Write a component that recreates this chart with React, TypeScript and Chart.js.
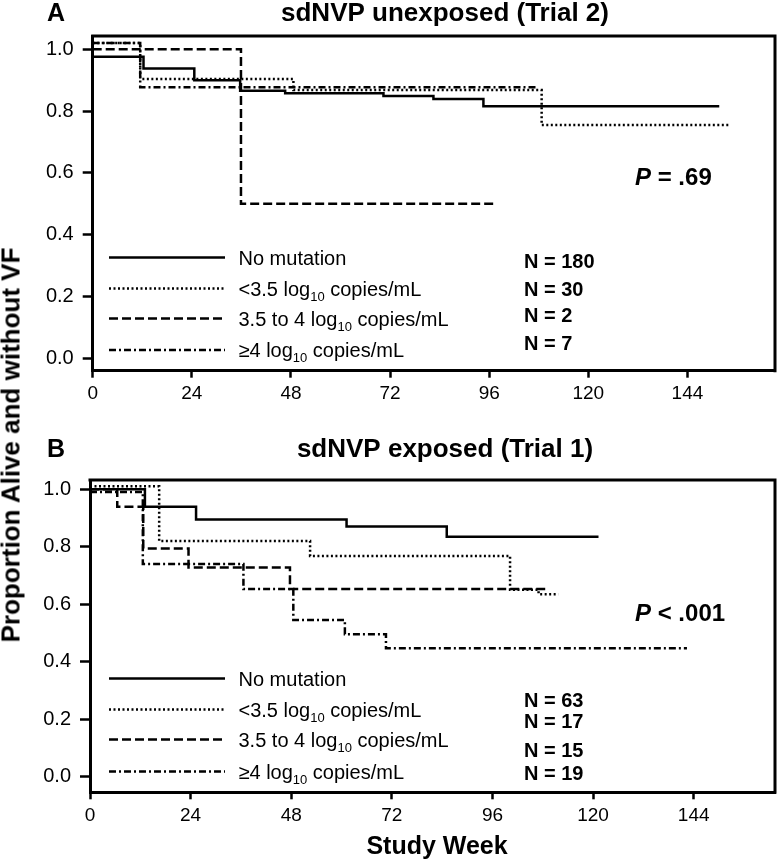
import React, { useEffect, useRef } from "react";
import { Chart, registerables } from "chart.js";
Chart.register(...registerables);

const FONT = "'Liberation Sans', Arial, Helvetica, sans-serif";

// ---------- shared data ----------
const groupLabels = ["No mutation", "<3.5 log10 copies/mL", "3.5 to 4 log10 copies/mL", "\u22654 log10 copies/mL"];
const groupLabelParts: string[][] = [
  ["No mutation"],
  ["<3.5 log", "10", " copies/mL"],
  ["3.5 to 4 log", "10", " copies/mL"],
  ["\u22654 log", "10", " copies/mL"],
];
const xTickValues = [0, 24, 48, 72, 96, 120, 144];
const yTickValues = [0, 0.2, 0.4, 0.6, 0.8, 1.0];
const yAxisTitle = "Proportion Alive and without VF";
const xAxisTitle = "Study Week";

// ---------- panel A ----------
const panelALetter = "A";
const panelATitle = "sdNVP unexposed (Trial 2)";
const panelAN = ["N = 180", "N = 30", "N = 2", "N = 7"];
const panelAP = ["P", " = .69"];
const aNoMutTimes = [0, 12.3, 24.6, 35.7, 46.6, 70.4, 82.5, 94.6, 151.7];
const aNoMutSurv = [0.976, 0.938, 0.9, 0.866, 0.858, 0.849, 0.839, 0.816, 0.816];
const aLowTimes = [0, 11.5, 48.6, 108.7, 154];
const aLowSurv = [1.02, 0.904, 0.868, 0.755, 0.755];
const aMidTimes = [0, 35.9, 97.8];
const aMidSurv = [1.0, 0.5, 0.5];
const aHighTimes = [0, 11.5, 107.5];
const aHighSurv = [1.02, 0.877, 0.877];

// ---------- panel B ----------
const panelBLetter = "B";
const panelBTitle = "sdNVP exposed (Trial 1)";
const panelBN = ["N = 63", "N = 17", "N = 15", "N = 19"];
const panelBP = ["P", " < .001"];
const bNoMutTimes = [0, 13.1, 25.3, 61.2, 85.1, 121.3];
const bNoMutSurv = [1.0, 0.939, 0.895, 0.87, 0.835, 0.835];
const bLowTimes = [0, 16.5, 52.5, 100.2, 107, 111.7];
const bLowSurv = [1.01, 0.82, 0.768, 0.65, 0.635, 0.635];
const bMidTimes = [0, 6.5, 12.7, 23.5, 47.7, 109];
const bMidSurv = [1.0, 0.939, 0.794, 0.728, 0.653, 0.653];
const bHighTimes = [0, 12.6, 36.6, 48.5, 60.8, 70.6, 142.4];
const bHighSurv = [0.99, 0.74, 0.653, 0.545, 0.496, 0.447, 0.447];

const dashes = [[], [2, 2.5], [9, 4], [7, 3, 2, 3]];

type Panel = {
  letter: string;
  title: string;
  nLabels: string[];
  p: string[];
  series: { t: number[]; s: number[] }[];
  canvasH: number;
  left: number;
  top: number;
  bottom: number;
  xMax: number;
  yMin: number;
  yMax: number;
  letterY: number;
  titleY: number;
  pY: number;
  legendY: number[];
  nY: number[];
  showXTitle: boolean;
};

const panels: Panel[] = [
  {
    letter: panelALetter,
    title: panelATitle,
    nLabels: panelAN,
    p: panelAP,
    series: [
      { t: aNoMutTimes, s: aNoMutSurv },
      { t: aLowTimes, s: aLowSurv },
      { t: aMidTimes, s: aMidSurv },
      { t: aHighTimes, s: aHighSurv },
    ],
    canvasH: 420,
    left: 92.7,
    top: 36,
    bottom: 370.7,
    xMax: 165.2,
    yMin: -0.04,
    yMax: 1.043,
    letterY: 14,
    titleY: 14,
    pY: 178,
    legendY: [257.5, 288.5, 318.5, 350],
    nY: [262.5, 290.7, 316.7, 344],
    showXTitle: false,
  },
  {
    letter: panelBLetter,
    title: panelBTitle,
    nLabels: panelBN,
    p: panelBP,
    series: [
      { t: bNoMutTimes, s: bNoMutSurv },
      { t: bLowTimes, s: bLowSurv },
      { t: bMidTimes, s: bMidSurv },
      { t: bHighTimes, s: bHighSurv },
    ],
    canvasH: 447,
    left: 90,
    top: 60,
    bottom: 372.3,
    xMax: 163.4,
    yMin: -0.054,
    yMax: 1.032,
    letterY: 30,
    titleY: 30,
    pY: 194,
    legendY: [258.5, 289.5, 319.5, 351.5],
    nY: [281, 302.3, 331, 354],
    showXTitle: true,
  },
];

function drawParts(ctx: CanvasRenderingContext2D, parts: string[], x: number, y: number) {
  let cx = x;
  parts.forEach((part, i) => {
    const isSub = parts.length === 3 && i === 1;
    ctx.font = isSub ? `13px ${FONT}` : `20px ${FONT}`;
    ctx.textBaseline = "middle";
    ctx.textAlign = "left";
    ctx.fillText(part, cx, isSub ? y + 7 : y);
    cx += ctx.measureText(part).width;
  });
}

function makeDecor(p: Panel) {
  return {
    id: "decor",
    afterDraw(chart: any) {
      const ctx: CanvasRenderingContext2D = chart.ctx;
      const a = chart.chartArea;
      ctx.save();
      ctx.strokeStyle = "#000";
      ctx.fillStyle = "#000";
      ctx.lineWidth = 3;
      ctx.setLineDash([]);
      ctx.beginPath();
      ctx.moveTo(a.left - 1.5, a.top);
      ctx.lineTo(a.right, a.top);
      ctx.lineTo(a.right, a.bottom + 1.5);
      ctx.stroke();

      // letter + title
      ctx.textBaseline = "middle";
      ctx.textAlign = "left";
      ctx.font = `bold 25px ${FONT}`;
      ctx.fillText(p.letter, 47, p.letterY);
      ctx.font = `bold 26px ${FONT}`;
      ctx.textAlign = "center";
      ctx.fillText(p.title, 445, p.titleY);

      // P value
      ctx.textAlign = "left";
      ctx.font = `italic bold 24px ${FONT}`;
      ctx.fillText(p.p[0], 635, p.pY);
      const w = ctx.measureText(p.p[0]).width;
      ctx.font = `bold 24px ${FONT}`;
      ctx.fillText(p.p[1], 635 + w, p.pY);

      // legend
      chart.data.datasets.forEach((ds: any, i: number) => {
        const y = p.legendY[i];
        ctx.save();
        ctx.lineWidth = 2.5;
        ctx.setLineDash(ds.borderDash || []);
        ctx.beginPath();
        ctx.moveTo(109, y);
        ctx.lineTo(225, y);
        ctx.stroke();
        ctx.restore();
        drawParts(ctx, groupLabelParts[i], 238.5, y + 1.5);
        ctx.font = `bold 20px ${FONT}`;
        ctx.textAlign = "left";
        ctx.textBaseline = "middle";
        ctx.fillText(p.nLabels[i], 524, p.nY[i]);
      });

      if (p.showXTitle) {
        ctx.font = `bold 25px ${FONT}`;
        ctx.textAlign = "center";
        ctx.textBaseline = "middle";
        ctx.fillText(xAxisTitle, 437, 427);
      }
      ctx.restore();
    },
  };
}

function makeConfig(p: Panel): any {
  const xScaleH = 40;
  return {
    type: "line",
    data: {
      datasets: p.series.map((sr, i) => ({
        label: groupLabels[i],
        data: sr.t.map((t, j) => ({ x: t, y: sr.s[j] })),
        stepped: "before",
        borderColor: "#000",
        borderWidth: 2.5,
        borderDash: dashes[i],
        borderCapStyle: "butt",
        pointRadius: 0,
        fill: false,
      })),
    },
    options: {
      animation: false,
      responsive: false,
      events: [],
      layout: {
        padding: {
          left: p.left - 80,
          top: p.top,
          right: 780 - 775,
          bottom: p.canvasH - p.bottom - xScaleH,
        },
      },
      plugins: {
        legend: { display: false },
        tooltip: { enabled: false },
        title: { display: false },
      },
      scales: {
        x: {
          type: "linear",
          min: 0,
          max: p.xMax,
          afterBuildTicks: (s: any) => {
            s.ticks = xTickValues.map((v) => ({ value: v }));
          },
          afterFit: (s: any) => {
            s.height = xScaleH;
          },
          grid: {
            drawOnChartArea: false,
            drawTicks: true,
            tickLength: 7,
            tickWidth: 2.5,
            tickColor: "#000",
          },
          border: { display: true, color: "#000", width: 3 },
          ticks: {
            color: "#000",
            font: { family: FONT, size: 19 },
            padding: 5,
            maxRotation: 0,
            autoSkip: false,
            callback: (v: any) => String(v),
          },
        },
        y: {
          type: "linear",
          min: p.yMin,
          max: p.yMax,
          afterBuildTicks: (s: any) => {
            s.ticks = yTickValues.map((v) => ({ value: v }));
          },
          afterFit: (s: any) => {
            s.width = 80;
          },
          grid: {
            drawOnChartArea: false,
            drawTicks: true,
            tickLength: 10,
            tickWidth: 2.5,
            tickColor: "#000",
          },
          border: { display: true, color: "#000", width: 3 },
          ticks: {
            color: "#000",
            font: { family: FONT, size: 20 },
            padding: 9,
            autoSkip: false,
            callback: (v: any) => Number(v).toFixed(1),
          },
        },
      },
    },
    plugins: [makeDecor(p)],
  };
}

function PanelChart({ p, top }: { p: Panel; top: number }) {
  const ref = useRef<HTMLCanvasElement | null>(null);
  useEffect(() => {
    if (!ref.current) return;
    const chart = new Chart(ref.current, makeConfig(p));
    return () => chart.destroy();
  }, [p]);
  return (
    <canvas
      ref={ref}
      width={780}
      height={p.canvasH}
      style={{ position: "absolute", left: 0, top, width: 780, height: p.canvasH }}
    />
  );
}

export default function App() {
  return (
    <div
      style={{
        position: "fixed",
        left: 0,
        top: 0,
        width: 780,
        height: 867,
        background: "#fff",
        overflow: "hidden",
      }}
    >
      <PanelChart p={panels[0]} top={0} />
      <PanelChart p={panels[1]} top={420} />
      <div
        style={{
          position: "absolute",
          left: 11,
          top: 445,
          transform: "translate(-50%, -50%) rotate(-90deg)",
          whiteSpace: "nowrap",
          font: `bold 26px ${FONT}`,
          color: "#000",
        }}
      >
        {yAxisTitle}
      </div>
    </div>
  );
}
